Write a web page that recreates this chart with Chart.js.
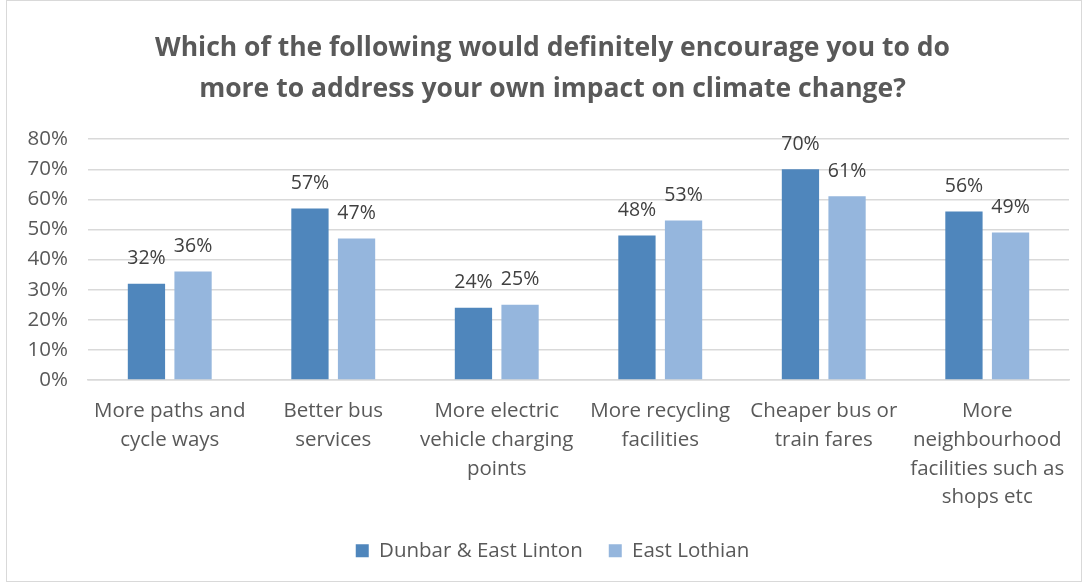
<!DOCTYPE html>
<html>
<head>
<meta charset="utf-8">
<script src="https://cdn.jsdelivr.net/npm/chart.js@4.4.0/dist/chart.umd.min.js"></script>
<style>
    html, body { margin: 0; padding: 0; background: #fff; }
    #wrap { position: relative; width: 1088px; height: 585px; }
    #frame { position: absolute; left: 6px; top: 0; width: 1076px; height: 582px; border: 1px solid #d9d9d9; box-sizing: border-box; pointer-events: none; }
</style>
</head>
<body>
<div id="wrap">
    <canvas id="chart" width="1088" height="585"></canvas>
    <div id="frame"></div>
</div>
<script>
// Chart data
const categories = [
    ['More paths and', 'cycle ways'],
    ['Better bus', 'services'],
    ['More electric', 'vehicle charging', 'points'],
    ['More recycling', 'facilities'],
    ['Cheaper bus or', 'train fares'],
    ['More', 'neighbourhood', 'facilities such as', 'shops etc']
];
const dunbarValues = [32, 57, 24, 48, 70, 56];
const lothianValues = [36, 47, 25, 53, 61, 49];
const yTicks = [0, 10, 20, 30, 40, 50, 60, 70, 80];

const FONT = "'Open Sans', 'Liberation Sans', sans-serif";

// Simple data label plugin (no datalabels lib available)
const barLabels = {
    id: 'barLabels',
    afterDatasetsDraw(chart) {
        const ctx = chart.ctx;
        ctx.save();
        ctx.font = '19.5px ' + FONT;
        ctx.fillStyle = '#404040';
        ctx.textAlign = 'center';
        ctx.textBaseline = 'middle';
        chart.data.datasets.forEach((ds, i) => {
            const meta = chart.getDatasetMeta(i);
            meta.data.forEach((bar, j) => {
                ctx.fillText(ds.data[j] + '%', bar.x, bar.y - 25);
            });
        });
        ctx.restore();
    }
};

// title + legend sit a little right of the plot centre in the original
const shiftBlocks = {
    id: 'shiftBlocks',
    afterLayout(chart) {
        [chart.titleBlock, chart.legend].forEach(b => {
            if (b) { b.left += 18; b.right += 18; }
        });
    }
};

new Chart(document.getElementById('chart').getContext('2d'), {
    type: 'bar',
    data: {
        labels: categories,
        datasets: [
            {
                label: 'Dunbar & East Linton',
                data: dunbarValues,
                backgroundColor: '#4F86BC',
                borderWidth: 0,
                categoryPercentage: 0.57,
                barPercentage: 0.8
            },
            {
                label: 'East Lothian',
                data: lothianValues,
                backgroundColor: '#95B6DD',
                borderWidth: 0,
                categoryPercentage: 0.57,
                barPercentage: 0.8
            }
        ]
    },
    options: {
        responsive: false,
        animation: false,
        layout: { padding: { left: 0, right: 19, top: 28, bottom: 14 } },
        scales: {
            y: {
                min: 0,
                max: 80,
                afterBuildTicks: (scale) => { scale.ticks = yTicks.map(v => ({ value: v })); },
                afterFit: (scale) => { scale.width = 88; },
                ticks: {
                    color: '#595959',
                    font: { size: 20.5, family: FONT },
                    padding: 20,
                    callback: (v) => v + '%'
                },
                grid: { color: '#d9d9d9', lineWidth: 1.5, drawTicks: false },
                border: { display: false }
            },
            x: {
                afterFit: (scale) => { scale.height = 134.5; },
                ticks: {
                    color: '#595959',
                    font: { size: 20.5, family: FONT, lineHeight: 1.4 },
                    padding: 17,
                    maxRotation: 0,
                    autoSkip: false
                },
                grid: { display: false, drawTicks: false },
                border: { color: '#d9d9d9', width: 1.5 }
            }
        },
        plugins: {
            title: {
                display: true,
                text: ['Which of the following would definitely encourage you to do', 'more to address your own impact on climate change?'],
                color: '#595959',
                font: { size: 26.5, weight: 'bold', family: FONT, lineHeight: 1.55 },
                padding: { top: 0, bottom: 29 }
            },
            legend: {
                position: 'bottom',
                labels: {
                    color: '#595959',
                    font: { size: 20.5, family: FONT },
                    boxWidth: 13,
                    boxHeight: 13,
                    padding: 26
                }
            },
            tooltip: { enabled: false }
        }
    },
    plugins: [barLabels, shiftBlocks]
});
</script>
</body>
</html>
